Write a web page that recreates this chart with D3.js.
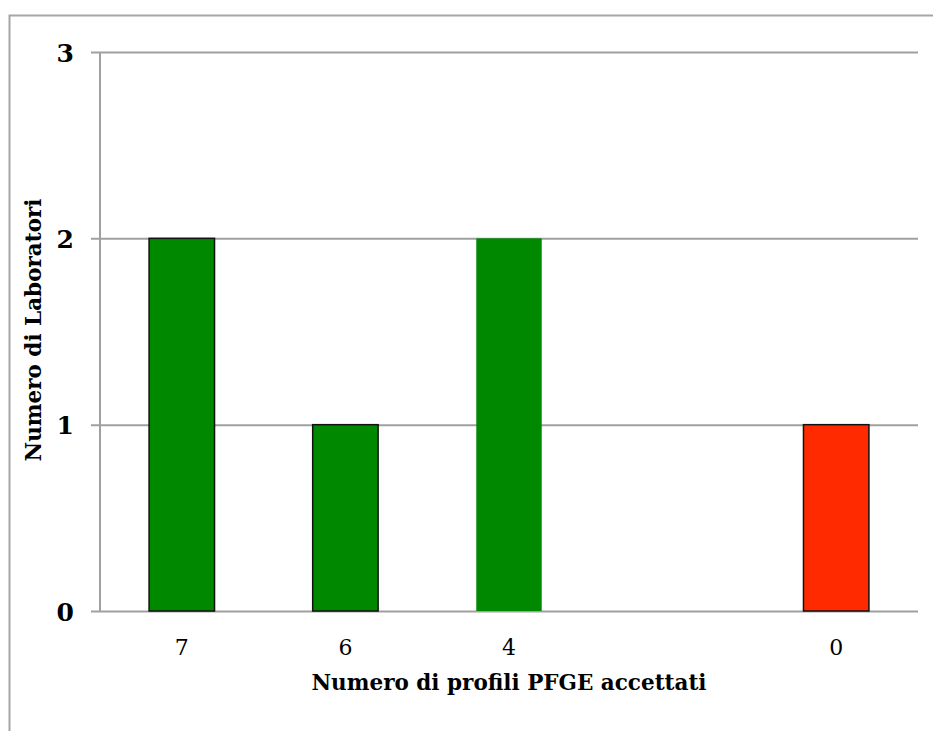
<!DOCTYPE html>
<html>
<head>
<meta charset="utf-8">
<script src="https://cdn.jsdelivr.net/npm/d3@7"></script>
<style>
  html, body { margin: 0; padding: 0; background: #fff; }
  svg { display: block; }
</style>
</head>
<body>
<svg id="chart" width="933" height="731"></svg>
<script>
// Number of accepted PFGE profiles per laboratory
const categories = ["7", "6", "4", "", "0"];
const counts = [2, 1, 2, null, 1];
const fills = ["#008800", "#008800", "#008800", null, "#ff2a00"];
const outlined = [true, true, false, false, true];
const yTicks = [0, 1, 2, 3];

const svg = d3.select("#chart");
const W = 933, H = 731;
const margin = { left: 100, right: 15, top: 52, bottom: 120 };
const plotW = W - margin.left - margin.right;
const plotH = H - margin.top - margin.bottom;
const serif = "'DejaVu Serif', serif";

// outer chart frame (extends past the window on the right and bottom)
svg.append("rect")
  .attr("x", 9.5).attr("y", 15.5)
  .attr("width", 940).attr("height", 740)
  .attr("fill", "none").attr("stroke", "#a6a6a6").attr("stroke-width", 2);

const x = d3.scaleBand()
  .domain(d3.range(categories.length))
  .range([margin.left, margin.left + plotW])
  .paddingInner(0.6).paddingOuter(0.3);

const y = d3.scaleLinear().domain([0, 3]).range([margin.top + plotH, margin.top]);

// horizontal gridlines with small tick stubs to the left
const yAxis = d3.axisLeft(y).tickValues(yTicks).tickSize(-plotW).tickFormat(d3.format("d"));
const gy = svg.append("g").attr("transform", `translate(${margin.left},0)`).call(yAxis);
gy.select(".domain").remove();
gy.selectAll(".tick line")
  .attr("x1", -9).attr("x2", plotW)
  .attr("stroke", "#a0a0a0").attr("stroke-width", 2);
gy.selectAll(".tick text")
  .attr("x", -26)
  .attr("dy", "0.36em")
  .style("font-family", serif)
  .style("font-weight", "bold")
  .style("font-size", "25px")
  .attr("fill", "#000");

// vertical axis line
svg.append("line")
  .attr("x1", margin.left).attr("x2", margin.left)
  .attr("y1", margin.top).attr("y2", margin.top + plotH)
  .attr("stroke", "#a0a0a0").attr("stroke-width", 2);

// bars
const barData = categories.map((c, i) => ({ i, c, v: counts[i], fill: fills[i], outlined: outlined[i] }))
  .filter(d => d.v != null);

svg.append("g").selectAll("rect")
  .data(barData)
  .join("rect")
  .attr("x", d => x(d.i))
  .attr("y", d => y(d.v))
  .attr("width", x.bandwidth())
  .attr("height", d => y(0) - y(d.v))
  .attr("fill", d => d.fill)
  .attr("stroke", d => d.outlined ? "#111" : "none")
  .attr("stroke-width", 1.5);

// category labels
const xAxis = d3.axisBottom(x).tickSize(0).tickFormat(i => categories[i]);
const gx = svg.append("g").attr("transform", `translate(0,${margin.top + plotH})`).call(xAxis);
gx.select(".domain").remove();
gx.selectAll(".tick text")
  .attr("y", 44)
  .attr("dy", null)
  .style("font-family", serif)
  .style("font-size", "22px")
  .attr("fill", "#000");

// axis titles
svg.append("text")
  .attr("x", 509)
  .attr("y", 690)
  .attr("text-anchor", "middle")
  .style("font-family", serif)
  .style("font-weight", "bold")
  .style("font-size", "21.5px")
  .text("Numero di profili PFGE accettati");

svg.append("text")
  .attr("transform", `translate(41,330) rotate(-90)`)
  .attr("text-anchor", "middle")
  .style("font-family", serif)
  .style("font-weight", "bold")
  .style("font-size", "21.5px")
  .text("Numero di Laboratori");
</script>
</body>
</html>
